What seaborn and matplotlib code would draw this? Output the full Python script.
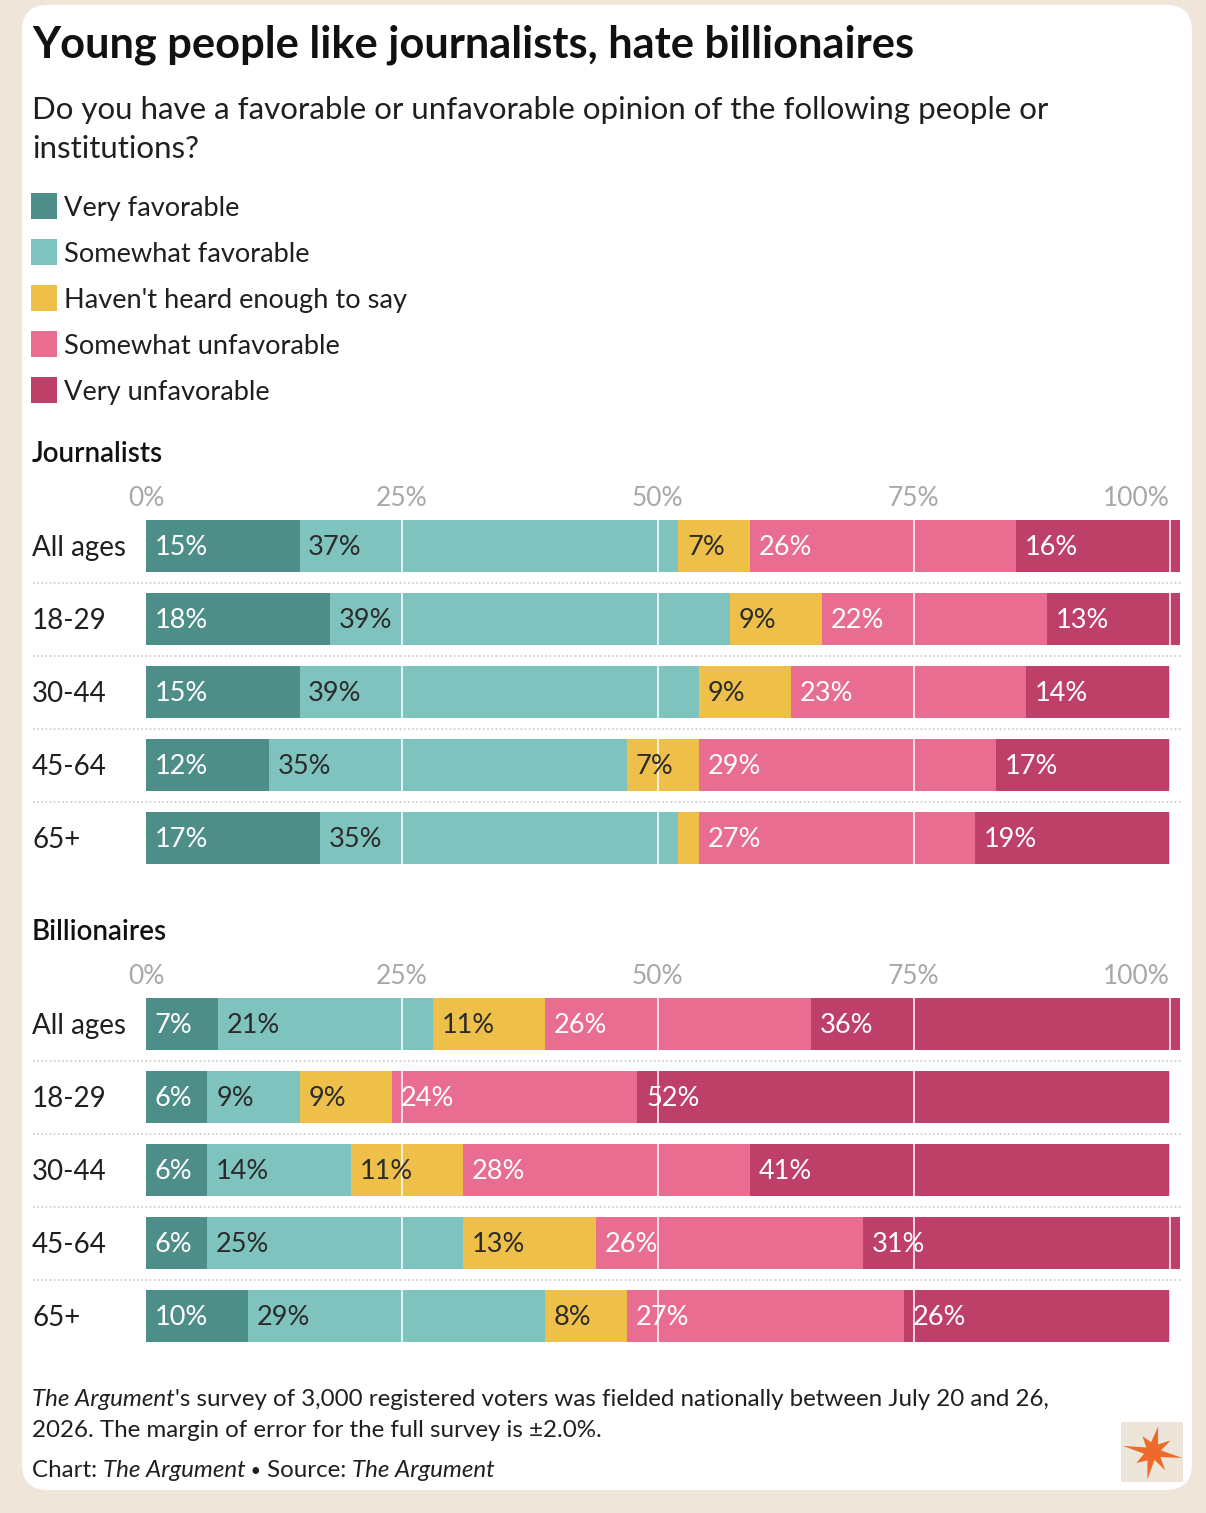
import numpy as np
import pandas as pd
import matplotlib
matplotlib.use("Agg")
import matplotlib.pyplot as plt
import matplotlib.transforms as mtransforms
from matplotlib.patches import FancyBboxPatch, Rectangle, Polygon
import seaborn as sns

# ---------------- data ----------------
categories = ["Very favorable", "Somewhat favorable", "Haven't heard enough to say",
              "Somewhat unfavorable", "Very unfavorable"]
ages = ["All ages", "18-29", "30-44", "45-64", "65+"]

journalists_very_fav = [15, 18, 15, 12, 17]
journalists_some_fav = [37, 39, 39, 35, 35]
journalists_not_heard = [7, 9, 9, 7, 2]
journalists_some_unfav = [26, 22, 23, 29, 27]
journalists_very_unfav = [16, 13, 14, 17, 19]

billionaires_very_fav = [7, 6, 6, 6, 10]
billionaires_some_fav = [21, 9, 14, 25, 29]
billionaires_not_heard = [11, 9, 11, 13, 8]
billionaires_some_unfav = [26, 24, 28, 26, 27]
billionaires_very_unfav = [36, 52, 41, 31, 26]

tick_values = [0, 25, 50, 75, 100]
tick_labels = ["0%", "25%", "50%", "75%", "100%"]

colors = ["#4E8E89", "#7FC3BE", "#EEC04A", "#E96D90", "#BE3F68"]
label_colors = ["white", "#2b2b2b", "#2b2b2b", "white", "white"]

# ---------------- figure ----------------
W, H = 1206, 1513
sns.set_theme(style="white")
plt.rcParams["font.family"] = ["Lato", "DejaVu Sans"]
fig = plt.figure(figsize=(W / 100, H / 100), dpi=100)
fig.patch.set_facecolor("#EFE6D9")

card = FancyBboxPatch((0.22, (H - 1490) / 100), (1192 - 22) / 100, (1490 - 5) / 100,
                      boxstyle="round,pad=0,rounding_size=0.26",
                      transform=fig.dpi_scale_trans, facecolor="white",
                      edgecolor="none", zorder=-5)
fig.patches.append(card)


def fx(px):
    return px / W


def fy(py):
    return 1 - py / H


def ty(py):
    # text centre position (small baseline correction)
    return 1 - (py + 2.5) / H


TEXT = "#1f1f1f"
fig.text(fx(32), ty(42), "Young people like journalists, hate billionaires",
         fontsize=31.2, fontweight="bold", color="#111111", va="center", ha="left")
fig.text(fx(32), ty(107), "Do you have a favorable or unfavorable opinion of the following people or",
         fontsize=22.5, color=TEXT, va="center", ha="left")
fig.text(fx(32), ty(147), "institutions?", fontsize=22.5, color=TEXT, va="center", ha="left")

for i, (cat, col) in enumerate(zip(categories, colors)):
    yc = 206 + 46 * i
    fig.patches.append(Rectangle((fx(31), fy(yc + 13)), fx(26), 26 / H,
                                 transform=fig.transFigure, facecolor=col,
                                 edgecolor="none"))
    fig.text(fx(64), ty(yc), cat, fontsize=19.6, color=TEXT, va="center", ha="left")


def section(title, title_y, row0_y, values):
    row_h = 73
    top = row0_y - row_h / 2
    bottom = row0_y + row_h * 4 + row_h / 2
    left, right = 146, 1181
    ax = fig.add_axes([fx(left), fy(bottom), fx(right - left), (bottom - top) / H])
    ax.set_facecolor("none")
    fig.text(fx(32), ty(title_y), title, fontsize=20, fontweight="semibold",
             color="#111111", va="center", ha="left")

    df = pd.DataFrame({"age": ages})
    cum = np.zeros(len(ages))
    starts = []
    for k, cat in enumerate(categories):
        starts.append(cum.copy())
        cum = cum + np.array(values[k])
        df[cat] = cum
    # draw longest (cumulative) first so shorter stacked segments sit on top
    for k in range(len(categories) - 1, -1, -1):
        sns.barplot(data=df, x=categories[k], y="age", orient="h", color=colors[k],
                    saturation=1, width=0.71, errorbar=None, linewidth=0,
                    edgecolor="none", ax=ax, zorder=2)
    ax.set_xlim(0, 101.1)
    ax.set_ylim(4.5, -0.5)
    ax.set_xlabel("")
    ax.set_ylabel("")
    ax.set_yticks([])
    for s in ax.spines.values():
        s.set_visible(False)

    # gridlines over bars
    for t in tick_values[1:]:
        ax.axvline(t, color="white", lw=1.3, zorder=3, alpha=0.85)

    ax.xaxis.tick_top()
    ax.set_xticks(tick_values)
    ax.set_xticklabels(tick_labels)
    ax.tick_params(axis="x", length=0, pad=-1, labelsize=19, labelcolor="#a8a8a8")
    ax.get_xticklabels()[-1].set_horizontalalignment("right")

    # segment labels
    for k in range(len(categories)):
        for r in range(len(ages)):
            v = values[k][r]
            if v >= 5:
                ax.text(starts[k][r] + 0.85, r + 0.02, f"{v}%", ha="left", va="center",
                        fontsize=19.5, color=label_colors[k], zorder=4)

    blend = mtransforms.blended_transform_factory(fig.transFigure, ax.transData)
    for r, a in enumerate(ages):
        fig.text(fx(32), 0, a, transform=blend, fontsize=20, color=TEXT,
                 va="center", ha="left").set_position((fx(32), r + 0.03))
    for r in range(len(ages) - 1):
        ax.plot([fx(33), fx(1181)], [r + 0.5, r + 0.5], transform=blend,
                color="#c9c9c9", lw=1.2, ls=(0, (1, 1.5)), clip_on=False, zorder=5)
    return ax


section("Journalists", 452, 546, [journalists_very_fav, journalists_some_fav,
                                  journalists_not_heard, journalists_some_unfav,
                                  journalists_very_unfav])
section("Billionaires", 930, 1024, [billionaires_very_fav, billionaires_some_fav,
                                    billionaires_not_heard, billionaires_some_unfav,
                                    billionaires_very_unfav])

# footer
FS = 17.4
t1 = fig.text(fx(32), ty(1397), "The Argument", fontsize=FS, style="italic",
              color=TEXT, va="center", ha="left")
fig.canvas.draw()
r = fig.canvas.get_renderer()
bb = t1.get_window_extent(r)
fig.text(bb.x1 / W, ty(1397),
         "'s survey of 3,000 registered voters was fielded nationally between July 20 and 26,",
         fontsize=FS, color=TEXT, va="center", ha="left")
fig.text(fx(32), ty(1428), "2026. The margin of error for the full survey is \u00b12.0%.",
         fontsize=FS, color=TEXT, va="center", ha="left")

parts = [("Chart: ", "normal", FS), ("The Argument", "italic", FS), (" \u2022", "normal", 13),
         (" Source: ", "normal", FS), ("The Argument", "italic", FS)]
x = 32
for txt, st, fs in parts:
    t = fig.text(x / W, ty(1468), txt, fontsize=fs, style=st, color=TEXT,
                 va="center", ha="left")
    fig.canvas.draw()
    x = t.get_window_extent(fig.canvas.get_renderer()).x1

# logo
fig.patches.append(Rectangle((fx(1121), fy(1482)), fx(62), 60 / H,
                             transform=fig.transFigure, facecolor="#EDE5DA",
                             edgecolor="none"))
cx, cy = 1153, 1452
angles = np.linspace(0, 2 * np.pi, 17)[:-1] + 0.2
radii = np.array([30, 9, 22, 8, 28, 10, 20, 9, 31, 8, 19, 10, 26, 9, 21, 8])
glow = Polygon([(fx(cx + 0.8 * rr * np.cos(a)), fy(cy + 0.8 * rr * np.sin(a)))
                for a, rr in zip(angles, radii * 0.9 + 4)],
               closed=True, transform=fig.transFigure, facecolor="#E8EE7A",
               edgecolor="none")
fig.patches.append(glow)
star = Polygon([(fx(cx + rr * np.cos(a)), fy(cy + rr * np.sin(a)))
                for a, rr in zip(angles, radii)],
               closed=True, transform=fig.transFigure, facecolor="#EE6A2C",
               edgecolor="none")
fig.patches.append(star)

fig.savefig("out.png", dpi=100, facecolor=fig.get_facecolor())
